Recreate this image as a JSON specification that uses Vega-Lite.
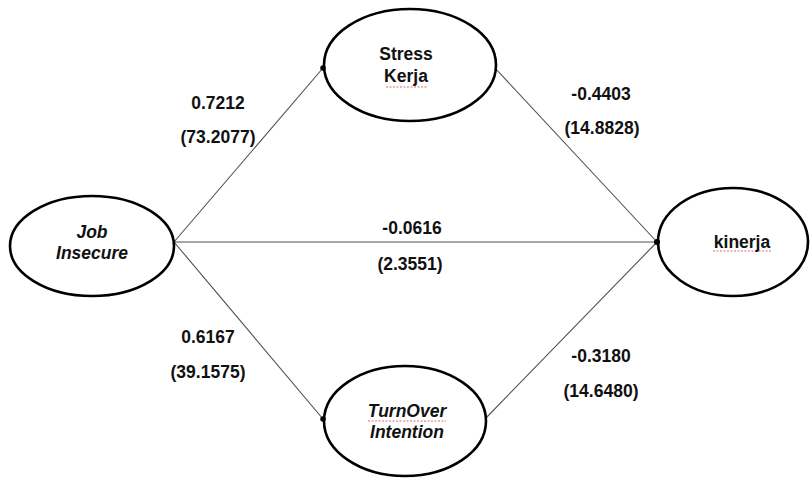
{
  "$schema": "https://vega.github.io/schema/vega-lite/v6.json",
  "width": 812,
  "height": 479,
  "padding": 0,
  "autosize": {"type": "none"},
  "background": "white",
  "config": {"view": {"stroke": null}},
  "datasets": {
    "edges": [
      {"from": "Job Insecure", "to": "Stress Kerja", "x1": 174, "y1": 242, "x2": 323, "y2": 68},
      {"from": "Job Insecure", "to": "kinerja", "x1": 174, "y1": 242, "x2": 657, "y2": 242},
      {"from": "Job Insecure", "to": "TurnOver Intention", "x1": 174, "y1": 242, "x2": 323, "y2": 419},
      {"from": "Stress Kerja", "to": "kinerja", "x1": 495, "y1": 68, "x2": 657, "y2": 242},
      {"from": "TurnOver Intention", "to": "kinerja", "x1": 485, "y1": 419, "x2": 657, "y2": 242}
    ],
    "nodes": [
      {"node": "Job Insecure", "x": 92, "y": 246},
      {"node": "Stress Kerja", "x": 410, "y": 65},
      {"node": "TurnOver Intention", "x": 405, "y": 421},
      {"node": "kinerja", "x": 733, "y": 242}
    ],
    "nodeText": [
      {"node": "Job Insecure", "text": "Job", "x": 92, "y": 233},
      {"node": "Job Insecure", "text": "Insecure", "x": 92, "y": 254},
      {"node": "Stress Kerja", "text": "Stress", "x": 406, "y": 55},
      {"node": "Stress Kerja", "text": "Kerja", "x": 406, "y": 77},
      {"node": "TurnOver Intention", "text": "TurnOver", "x": 407, "y": 412},
      {"node": "TurnOver Intention", "text": "Intention", "x": 407, "y": 433},
      {"node": "kinerja", "text": "kinerja", "x": 742, "y": 243}
    ],
    "spellMarks": [
      {"word": "Kerja", "xa": 386, "xb": 428, "y": 87},
      {"word": "TurnOver", "xa": 368, "xb": 446, "y": 421},
      {"word": "kinerja", "xa": 713, "xb": 772, "y": 251}
    ],
    "coefs": [
      {"path": "Job Insecure -> Stress Kerja", "text": "0.7212", "x": 218, "y": 104},
      {"path": "Job Insecure -> Stress Kerja", "text": "(73.2077)", "x": 218, "y": 138},
      {"path": "Stress Kerja -> kinerja", "text": "-0.4403", "x": 601, "y": 95},
      {"path": "Stress Kerja -> kinerja", "text": "(14.8828)", "x": 602, "y": 129},
      {"path": "Job Insecure -> kinerja", "text": "-0.0616", "x": 412, "y": 229},
      {"path": "Job Insecure -> kinerja", "text": "(2.3551)", "x": 410, "y": 265},
      {"path": "Job Insecure -> TurnOver Intention", "text": "0.6167", "x": 208, "y": 338},
      {"path": "Job Insecure -> TurnOver Intention", "text": "(39.1575)", "x": 208, "y": 373},
      {"path": "TurnOver Intention -> kinerja", "text": "-0.3180", "x": 601, "y": 357},
      {"path": "TurnOver Intention -> kinerja", "text": "(14.6480)", "x": 601, "y": 392}
    ]
  },
  "layer": [
    {
      "data": {"name": "edges"},
      "mark": {"type": "rule", "color": "#505050", "strokeWidth": 1.1},
      "encoding": {
        "x": {"field": "x1", "type": "quantitative", "scale": {"domain": [0, 812], "nice": false, "zero": false}, "axis": null},
        "y": {"field": "y1", "type": "quantitative", "scale": {"domain": [0, 479], "nice": false, "zero": false, "reverse": true}, "axis": null},
        "x2": {"field": "x2"},
        "y2": {"field": "y2"}
      }
    },
    {
      "data": {"name": "nodes"},
      "mark": {"type": "point", "filled": true, "fill": "white", "stroke": "black", "strokeWidth": 2.6, "opacity": 1, "size": 4},
      "encoding": {
        "x": {"field": "x", "type": "quantitative", "axis": null},
        "y": {"field": "y", "type": "quantitative", "axis": null},
        "shape": {
          "field": "node", "type": "nominal", "legend": null,
          "scale": {
            "domain": ["Job Insecure", "Stress Kerja", "TurnOver Intention", "kinerja"],
            "range": [
              "M -82 0 A 82 50 0 1 0 82 0 A 82 50 0 1 0 -82 0 Z",
              "M -86 0 A 86 56 0 1 0 86 0 A 86 56 0 1 0 -86 0 Z",
              "M -81 0 A 81 55 0 1 0 81 0 A 81 55 0 1 0 -81 0 Z",
              "M -75 0 A 75 54 0 1 0 75 0 A 75 54 0 1 0 -75 0 Z"
            ]
          }
        }
      }
    },
    {
      "data": {"name": "edges"},
      "mark": {"type": "point", "filled": true, "color": "black", "opacity": 1, "size": 30},
      "encoding": {
        "x": {"field": "x2", "type": "quantitative", "axis": null},
        "y": {"field": "y2", "type": "quantitative", "axis": null}
      }
    },
    {
      "data": {"name": "spellMarks"},
      "mark": {"type": "rule", "color": "#d9534f", "strokeWidth": 1.2, "strokeDash": [2, 1.5], "opacity": 0.85},
      "encoding": {
        "x": {"field": "xa", "type": "quantitative", "axis": null},
        "x2": {"field": "xb"},
        "y": {"field": "y", "type": "quantitative", "axis": null}
      }
    },
    {
      "data": {"name": "nodeText"},
      "transform": [{"filter": "datum.node == 'Job Insecure' || datum.node == 'TurnOver Intention'"}],
      "mark": {"type": "text", "font": "Liberation Sans", "fontSize": 17.5, "fontWeight": "bold", "fontStyle": "italic", "color": "#111111", "baseline": "middle", "align": "center"},
      "encoding": {
        "x": {"field": "x", "type": "quantitative", "axis": null},
        "y": {"field": "y", "type": "quantitative", "axis": null},
        "text": {"field": "text"}
      }
    },
    {
      "data": {"name": "nodeText"},
      "transform": [{"filter": "datum.node == 'Stress Kerja' || datum.node == 'kinerja'"}],
      "mark": {"type": "text", "font": "Liberation Sans", "fontSize": 17.5, "fontWeight": "bold", "color": "#111111", "baseline": "middle", "align": "center"},
      "encoding": {
        "x": {"field": "x", "type": "quantitative", "axis": null},
        "y": {"field": "y", "type": "quantitative", "axis": null},
        "text": {"field": "text"}
      }
    },
    {
      "data": {"name": "coefs"},
      "mark": {"type": "text", "font": "Liberation Sans", "fontSize": 17.5, "fontWeight": "bold", "color": "#111111", "baseline": "middle", "align": "center"},
      "encoding": {
        "x": {"field": "x", "type": "quantitative", "axis": null},
        "y": {"field": "y", "type": "quantitative", "axis": null},
        "text": {"field": "text"}
      }
    }
  ]
}
